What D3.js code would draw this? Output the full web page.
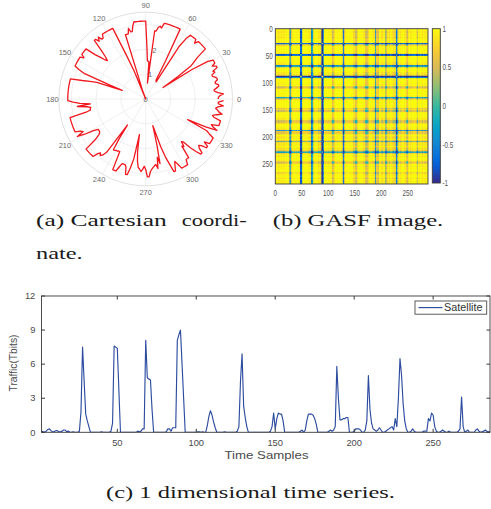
<!DOCTYPE html>
<html><head><meta charset="utf-8">
<script src="https://cdn.jsdelivr.net/npm/d3@7"></script>
<style>
body{margin:0;background:#fff;}
svg{display:block;}
text{font-family:"Liberation Sans",Arial,sans-serif;}
text.cap{font-family:"Liberation Serif","Times New Roman",serif;}
</style></head><body>
<svg id="fig" width="491" height="509"></svg>
<script>
// ---- data ----
const traffic = [
0.1,0.1,0.05,0,0.1,0.25,0.3,0.15,0.05,0.05,
0.15,0.15,0.05,0.05,0.1,0.2,0.2,0.05,0.1,0,
0,0.05,0,0,0,0.1,1.8,7.5,4.5,1.6,
1.0,0.5,0,0,0,0,0,0,0,0.05,
0,0,0,0,0,0.1,0.8,7.6,7.5,7.4,
3.7,0,0,0,0,0,0,0,0,0,
0,0,0.1,0.05,0.1,0.3,0.3,8.1,4.8,4.7,
4.6,2.0,0,0,0,0,0,0,0,0,
0.05,0.3,0.3,0.1,0.4,0.4,0.4,8.1,8.6,9.0,
6.0,3.0,0,0,0,0,0,0,0,0,
0.05,0.05,0,0.05,0,0,0.6,1.4,1.9,1.5,
0.9,0.4,0,0,0,0,0,0.05,0,0,
0,0,0,0,0,0.1,0.5,4.5,6.9,2.3,
1.3,0.5,0,0,0,0,0,0,0,0,
0,0,0,0,0,0,0.1,0.5,1.7,0.3,
1.2,1.7,1.6,1.6,1.0,0,0,0,0,0,
0,0,0,0,0,0.1,0.2,0,0.2,1.0,
1.6,1.6,1.6,1.5,1.2,0.7,0,0,0,0,
0,0,0,0.1,0.2,0.1,0.2,0.5,5.8,3.0,
1.1,1.1,1.2,1.2,1.3,1.3,0,0,0,0.1,
0.3,0.3,0.3,0.2,0,0,0.2,1.0,5.0,2.0,
0.8,0.3,0.2,0.1,0.2,0.4,0.2,0,0,0.1,
0.2,0.3,0.4,0.5,0.2,1.2,0.5,3.0,6.5,5.0,
2.5,1.0,0.3,0,0,0.1,0.3,0.1,0,0,
0,0,0,0.1,0.1,0.1,1.2,1.0,1.7,1.5,
0.5,0.1,0,0,0.1,0.2,0.1,0,0,0.1,
0,0,0,0,0,0.1,0.3,3.1,0.5,0,
0.1,0.2,0,0,0,0,0.2,0.3,0.1,0,
0.05,0.1,0.2,0.1,0,0.1,0.1,0
];
const seriesName = "Satellite";
const timeTicks = [50,100,150,200,250];
const trafficTicks = [0,3,6,9,12];
const angleTicks = [0,30,60,90,120,150,180,210,240,270,300,330];
const radiusRings = [1,2,3];
const radiusLabels = [0,1,2];
const gasfTicks = [0,50,100,150,200,250];
const colorbarTicks = [1,0.5,0,-0.5,-1];
const parulaStops = ["#352a87","#0363e1","#1485d4","#06a7c6","#38b99e","#92bf73","#d9ba56","#fcce2e","#f9fb0e"];
const captionA1 = ["(a) Cartesian","coordi-"];
const captionA2 = "nate.";
const captionB = "(b) GASF image.";
const captionC = "(c) 1 dimensional time series.";

const svg = d3.select("#fig");
const N = traffic.length;

// polar angle encoding of the series (GAF definition)
const norm = d3.scaleLinear().domain([d3.min(traffic), d3.max(traffic)]).range([-1, 1]);
const phi = traffic.map(v => Math.acos(Math.max(-1, Math.min(1, norm(v)))));

// ================= (a) polar =================
{
  const g = svg.append("g").attr("transform", "translate(145.7,99)");
  const rScale = d3.scaleLinear().domain([0, 3.5]).range([0, 86.8]);
  const rMax = 3.5;
  g.selectAll("circle.ring").data(radiusRings).join("circle")
    .attr("r", d => rScale(d)).attr("fill", "none").attr("stroke", "#ebebeb").attr("stroke-width", 0.8);
  g.append("circle").attr("r", rScale(rMax)).attr("fill", "none").attr("stroke", "#dcdcdc").attr("stroke-width", 0.9);
  g.selectAll("line.spoke").data(angleTicks).join("line")
    .attr("x1", 0).attr("y1", 0)
    .attr("x2", d => rScale(rMax) * Math.cos(d * Math.PI / 180))
    .attr("y2", d => -rScale(rMax) * Math.sin(d * Math.PI / 180))
    .attr("stroke", "#ebebeb").attr("stroke-width", 0.8);
  g.selectAll("text.ang").data(angleTicks).join("text")
    .attr("x", d => (rScale(rMax) + 6.5) * Math.cos(d * Math.PI / 180))
    .attr("y", d => -(rScale(rMax) + 6.5) * Math.sin(d * Math.PI / 180))
    .attr("text-anchor", "middle").attr("dy", "0.35em")
    .attr("font-size", 7.5).attr("fill", "#6a6a6a").text(d => d);
  const la = 80 * Math.PI / 180;
  g.selectAll("text.rl").data(radiusLabels).join("text")
    .attr("x", d => rScale(d) * Math.cos(la))
    .attr("y", d => -rScale(d) * Math.sin(la))
    .attr("text-anchor", "middle").attr("dy", "0.35em")
    .attr("font-size", 7.5).attr("fill", "#6a6a6a").text(d => d);
  const pts = traffic.map((v, i) => ({ theta: 2 * Math.PI * i / N, r: phi[i] }));
  const line = d3.lineRadial().angle(d => Math.PI / 2 - d.theta).radius(d => rScale(d.r));
  g.append("path").attr("d", line(pts)).attr("fill", "none")
    .attr("stroke", "#f0181e").attr("stroke-width", 1.3).attr("stroke-linejoin", "round");
}

// ================= (b) GASF image =================
{
  const gx = d3.scaleLinear().domain([0, N]).range([275.3, 428]);
  const gy = d3.scaleLinear().domain([0, N]).range([28.7, 184]);
  const parula = d3.scaleLinear().domain(d3.range(parulaStops.length).map(i => -1 + 2 * i / (parulaStops.length - 1)))
    .range(parulaStops).interpolate(d3.interpolateRgb).clamp(true);
  const canvas = document.createElement("canvas");
  canvas.width = N; canvas.height = N;
  const ctx = canvas.getContext("2d");
  const img = ctx.createImageData(N, N);
  for (let i = 0; i < N; i++) {
    for (let j = 0; j < N; j++) {
      const c = d3.rgb(parula(Math.cos(phi[i] + phi[j])));
      const k = (i * N + j) * 4;
      img.data[k] = c.r; img.data[k + 1] = c.g; img.data[k + 2] = c.b; img.data[k + 3] = 255;
    }
  }
  ctx.putImageData(img, 0, 0);
  const defs = svg.append("defs");
  defs.append("filter").attr("id", "soft").attr("x", 0).attr("y", 0).attr("width", 1).attr("height", 1)
    .append("feGaussianBlur").attr("stdDeviation", 0.55).attr("edgeMode", "duplicate");
  defs.append("clipPath").attr("id", "clipb").append("rect")
    .attr("x", gx(0)).attr("y", gy(0)).attr("width", gx(N) - gx(0)).attr("height", gy(N) - gy(0));
  svg.append("g").attr("clip-path", "url(#clipb)").append("image").attr("href", canvas.toDataURL())
    .attr("x", gx(0)).attr("y", gy(0))
    .attr("width", gx(N) - gx(0)).attr("height", gy(N) - gy(0))
    .attr("preserveAspectRatio", "none").attr("filter", "url(#soft)");
  svg.append("rect").attr("x", gx(0)).attr("y", gy(0))
    .attr("width", gx(N) - gx(0)).attr("height", gy(N) - gy(0))
    .attr("fill", "none").attr("stroke", "#3a3a3a").attr("stroke-width", 0.9);
  const sx = 0.7;
  svg.selectAll("g.gxt").data(gasfTicks).join("g")
    .attr("transform", d => `translate(${gx(d)},196.3)`)
    .append("text").attr("transform", `scale(${sx},1)`).attr("text-anchor", "middle")
    .attr("font-size", 9).attr("fill", "#555").text(d => d);
  svg.selectAll("g.gyt").data(gasfTicks).join("g")
    .attr("transform", d => `translate(272.8,${gy(d)})`)
    .append("text").attr("transform", `scale(${sx},1)`).attr("text-anchor", "end").attr("dy", "0.35em")
    .attr("font-size", 9).attr("fill", "#555").text(d => d);
  // colorbar
  const cy = d3.scaleLinear().domain([-1, 1]).range([183, 28.7]);
  const grad = defs.append("linearGradient").attr("id", "cbar").attr("x1", 0).attr("y1", 1).attr("x2", 0).attr("y2", 0);
  grad.selectAll("stop").data(d3.range(0, 1.0001, 0.05)).join("stop")
    .attr("offset", d => d).attr("stop-color", d => parula(-1 + 2 * d));
  svg.append("rect").attr("x", 432.3).attr("y", cy(1)).attr("width", 8).attr("height", cy(-1) - cy(1))
    .attr("fill", "url(#cbar)").attr("stroke", "#3a3a3a").attr("stroke-width", 0.9);
  svg.selectAll("g.cbt").data(colorbarTicks).join("g")
    .attr("transform", d => `translate(442.5,${cy(d)})`)
    .append("text").attr("transform", `scale(${sx},1)`).attr("dy", "0.35em")
    .attr("font-size", 9).attr("fill", "#555").text(d => d);
}

// ================= (c) time series =================
{
  const left = 41.5, right = 490, top = 296, bottom = 432.3;
  const x = d3.scaleLinear().domain([2, 286]).range([left, right]);
  const y = d3.scaleLinear().domain([0, 12]).range([bottom, top]);
  const defs = svg.append("defs");
  defs.append("clipPath").attr("id", "clipc").append("rect")
    .attr("x", left).attr("y", top).attr("width", right - left).attr("height", bottom - top);
  svg.append("rect").attr("x", left).attr("y", top).attr("width", right - left).attr("height", bottom - top)
    .attr("fill", "#fff");
  const line = d3.line().x((d, i) => x(i + 1)).y(d => y(d));
  svg.append("path").attr("clip-path", "url(#clipc)").attr("d", line(traffic))
    .attr("fill", "none").attr("stroke", "#2d4c9f").attr("stroke-width", 1.15).attr("stroke-linejoin", "round");
  // frame + ticks
  const ax = "#3a3a3a";
  svg.append("rect").attr("x", left).attr("y", top).attr("width", right - left).attr("height", bottom - top)
    .attr("fill", "none").attr("stroke", ax).attr("stroke-width", 0.9);
  const tl = 3.5;
  svg.selectAll("line.xtb").data(timeTicks).join("line")
    .attr("x1", d => x(d)).attr("x2", d => x(d)).attr("y1", bottom).attr("y2", bottom - tl).attr("stroke", ax);
  svg.selectAll("line.xtt").data(timeTicks).join("line")
    .attr("x1", d => x(d)).attr("x2", d => x(d)).attr("y1", top).attr("y2", top + tl).attr("stroke", ax);
  svg.selectAll("line.ytl").data(trafficTicks).join("line")
    .attr("x1", left).attr("x2", left + tl).attr("y1", d => y(d)).attr("y2", d => y(d)).attr("stroke", ax);
  svg.selectAll("line.ytr").data(trafficTicks).join("line")
    .attr("x1", right).attr("x2", right - tl).attr("y1", d => y(d)).attr("y2", d => y(d)).attr("stroke", ax);
  svg.selectAll("text.xtl").data(timeTicks).join("text")
    .attr("x", d => x(d)).attr("y", 445.7).attr("text-anchor", "middle")
    .attr("font-size", 9.3).attr("fill", "#4a4a4a").text(d => d);
  svg.selectAll("text.ytl").data(trafficTicks).join("text")
    .attr("x", 35.3).attr("y", d => y(d)).attr("dy", "0.35em").attr("text-anchor", "end")
    .attr("font-size", 9.3).attr("fill", "#4a4a4a").text(d => d);
  svg.append("text").attr("x", 224.5).attr("y", 458.5)
    .attr("font-size", 10.6).attr("fill", "#4a4a4a")
    .attr("textLength", 84).attr("lengthAdjust", "spacingAndGlyphs").text("Time Samples");
  svg.append("text").attr("transform", "translate(16.8,391.5) rotate(-90)")
    .attr("font-size", 10.4).attr("fill", "#4a4a4a")
    .attr("textLength", 57).attr("lengthAdjust", "spacingAndGlyphs").text("Traffic(Tbits)");
  // legend
  svg.append("rect").attr("x", 415).attr("y", 301).attr("width", 71.7).attr("height", 13.2)
    .attr("fill", "#fff").attr("stroke", "#4a4a4a").attr("stroke-width", 0.9);
  svg.append("line").attr("x1", 418.5).attr("x2", 442.5).attr("y1", 307.6).attr("y2", 307.6)
    .attr("stroke", "#2d4c9f").attr("stroke-width", 1.15);
  svg.append("text").attr("x", 444).attr("y", 311.2).attr("font-size", 10)
    .attr("fill", "#333").attr("textLength", 38.5).attr("lengthAdjust", "spacingAndGlyphs").text(seriesName);
}

// ================= captions =================
{
  const cap = (t, xx, yy, w) => svg.append("text").attr("class", "cap").attr("x", xx).attr("y", yy)
    .attr("font-size", 16.5)
    .attr("fill", "#1a1a1a").attr("textLength", w).attr("lengthAdjust", "spacingAndGlyphs").text(t);
  cap(captionA1[0], 36, 225.7, 130.7);
  cap(captionA1[1], 181.7, 225.7, 65);
  cap(captionA2, 36, 258.5, 46.7);
  cap(captionB, 272.7, 225.7, 170.6);
  cap(captionC, 106, 498.3, 289);
}
</script>
</body></html>
